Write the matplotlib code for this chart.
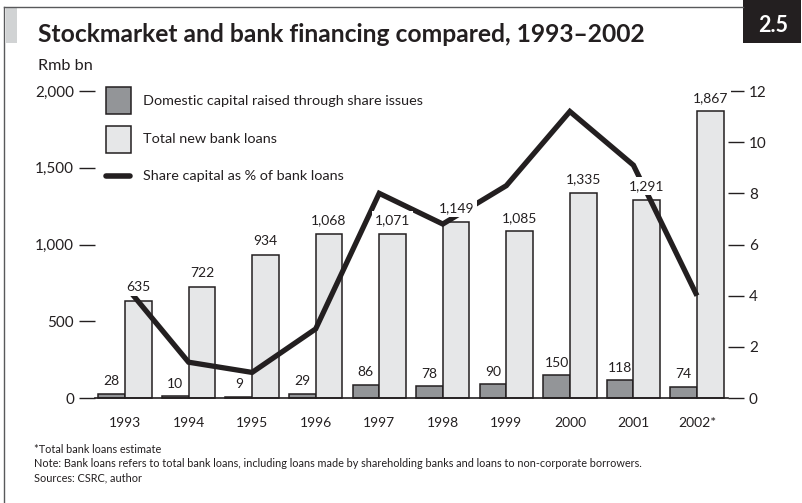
import matplotlib
matplotlib.use("Agg")
import matplotlib.pyplot as plt
from matplotlib.patches import Rectangle
from matplotlib.lines import Line2D

# ---- data -------------------------------------------------------------
years = ["1993", "1994", "1995", "1996", "1997", "1998", "1999", "2000", "2001", "2002*"]
share_capital = [28, 10, 9, 29, 86, 78, 90, 150, 118, 74]          # Rmb bn
bank_loans = [635, 722, 934, 1068, 1071, 1149, 1085, 1335, 1291, 1867]  # Rmb bn
share_pct = [4.4, 1.4, 1.0, 2.7, 8.0, 6.8, 8.3, 11.2, 9.1, 4.0]   # % of bank loans

left_ticks = [0, 500, 1000, 1500, 2000]
right_ticks = [0, 2, 4, 6, 8, 10, 12]

# ---- style ------------------------------------------------------------
INK = "#231f20"
DARK_FILL = "#939598"
LIGHT_FILL = "#e6e7e8"
TEXT_FONT = ["Lato", "DejaVu Sans"]
NUM_FONT = ["Lato", "DejaVu Sans"]

W, H, DPI = 803, 503, 100
fig = plt.figure(figsize=(W / DPI, H / DPI), dpi=DPI)
fig.patch.set_facecolor("white")


def fx(px):
    return px / W


def fy(py):
    return 1 - py / H


def fit_width(t, target_px):
    r = fig.canvas.get_renderer()
    bb = t.get_window_extent(renderer=r)
    t.set_fontsize(t.get_fontsize() * target_px / bb.width)
    return t.get_fontsize()


# ---- frame decorations --------------------------------------------------
fig.add_artist(Line2D([fx(4), fx(4)], [fy(7), fy(503)], transform=fig.transFigure,
                      color="#58595b", lw=1.0))
fig.add_artist(Line2D([fx(4), fx(743)], [fy(7), fy(7)], transform=fig.transFigure,
                      color="#58595b", lw=1.0))
fig.add_artist(Rectangle((fx(6), fy(43)), fx(17) - fx(6), 35 / H, transform=fig.transFigure,
                         fc="#d1d3d4", ec="none"))
fig.add_artist(Rectangle((fx(743), fy(43)), fx(801) - fx(743), 43 / H,
                         transform=fig.transFigure, fc=INK, ec="none"))
fig.text(fx(773), fy(25), "2.5", color="white", fontsize=15.5, fontweight="bold",
         family=TEXT_FONT, ha="center", va="center")

title = fig.text(fx(38), fy(42), "Stockmarket and bank financing compared, 1993\u20132002",
                 fontsize=16, fontweight="bold", family=TEXT_FONT, color=INK, va="baseline")
fit_width(title, 610)
unit = fig.text(fx(38), fy(70), "Rmb bn", fontsize=11, family=TEXT_FONT, color=INK,
                va="baseline")
fit_width(unit, 55)

# ---- axes -----------------------------------------------------------------
ax = fig.add_axes([fx(95), fy(398), fx(728) - fx(95), (398 - 91) / H])
x = list(range(len(years)))
bw = 0.42

ax.bar([xi - bw / 2 for xi in x], share_capital, width=bw, color=DARK_FILL,
       edgecolor=INK, linewidth=1.1, zorder=2, clip_on=False)
ax.bar([xi + bw / 2 for xi in x], bank_loans, width=bw, color=LIGHT_FILL,
       edgecolor=INK, linewidth=1.1, zorder=2, clip_on=False)
ax.axhline(0, color=INK, lw=1.2, zorder=3, clip_on=False)

ax.set_xlim(-0.472, 9.488)
ax.set_ylim(0, 2000)
ax.set_yticks(left_ticks, [f"{v:,}" for v in left_ticks])
ax.set_xticks(x, years)
for s in ax.spines.values():
    s.set_visible(False)
ax.tick_params(axis="y", direction="out", length=11.5, width=1.0, pad=3.6,
               color=INK, labelcolor=INK, labelsize=11)
ax.tick_params(axis="x", length=0, pad=14, labelcolor=INK, labelsize=10)
for lab in ax.get_yticklabels() + ax.get_xticklabels():
    lab.set_family(NUM_FONT)

ax2 = ax.twinx()
ax2.set_ylim(0, 12)
ax2.set_yticks(right_ticks, [str(v) for v in right_ticks])
for s in ax2.spines.values():
    s.set_visible(False)
ax2.tick_params(axis="y", direction="out", length=11.5, width=1.0, pad=3.6,
                color=INK, labelcolor=INK, labelsize=11)
for lab in ax2.get_yticklabels():
    lab.set_family(NUM_FONT)

ax2.plot(x, share_pct, color=INK, lw=3.8, solid_joinstyle="miter",
         solid_capstyle="butt", zorder=3)

# bank-loan labels sit on white boxes so the line passes behind them
label_box = dict(boxstyle="square,pad=0.2", fc="white", ec="none")
for xi, v in zip(x, share_capital):
    ax2.annotate(f"{v:,}", xy=(xi - bw / 2, v), xycoords=ax.transData,
                 xytext=(0, 6), textcoords="offset points", ha="center", va="baseline",
                 fontsize=10, family=NUM_FONT, color=INK, zorder=5)
for xi, v in zip(x, bank_loans):
    ax2.annotate(f"{v:,}", xy=(xi + bw / 2, v), xycoords=ax.transData,
                 xytext=(0, 7), textcoords="offset points", ha="center", va="baseline",
                 fontsize=10, family=NUM_FONT, color=INK, bbox=label_box, zorder=5)

# ---- legend -----------------------------------------------------------------
fig.add_artist(Rectangle((fx(106), fy(114)), 25 / W, 27 / H, transform=fig.transFigure,
                         fc=DARK_FILL, ec=INK, lw=1.1))
fig.add_artist(Rectangle((fx(106), fy(153)), 25 / W, 27 / H, transform=fig.transFigure,
                         fc=LIGHT_FILL, ec=INK, lw=1.1))
fig.add_artist(Line2D([fx(106), fx(130)], [fy(176), fy(176)], transform=fig.transFigure,
                      color=INK, lw=4, solid_capstyle="round"))
leg1 = fig.text(fx(143), fy(101), "Domestic capital raised through share issues",
                fontsize=11, family=TEXT_FONT, color=INK, va="center")
size = fit_width(leg1, 279)
fig.text(fx(143), fy(139), "Total new bank loans", fontsize=size, family=TEXT_FONT,
         color=INK, va="center")
fig.text(fx(143), fy(176), "Share capital as % of bank loans", fontsize=size,
         family=TEXT_FONT, color=INK, va="center")

# ---- footnotes ----------------------------------------------------------------
note = fig.text(fx(34), fy(467),
                "Note: Bank loans refers to total bank loans, including loans made by "
                "shareholding banks and loans to non-corporate borrowers.",
                fontsize=7, family=TEXT_FONT, color=INK, va="baseline")
fsize = fit_width(note, 606)
fig.text(fx(34), fy(453), "*Total bank loans estimate", fontsize=fsize,
         family=TEXT_FONT, color=INK, va="baseline")
fig.text(fx(34), fy(481), "Sources: CSRC, author", fontsize=fsize,
         family=TEXT_FONT, color=INK, va="baseline")

fig.savefig("out.png", dpi=DPI, facecolor="white")
